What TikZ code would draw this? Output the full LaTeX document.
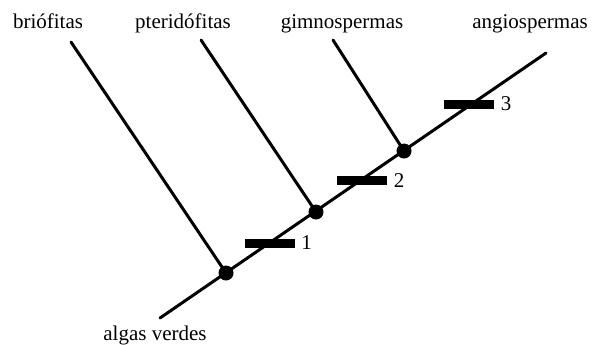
\documentclass[tikz,border=0pt]{standalone}
\usepackage{fontspec}
\setmainfont{Liberation Serif}
\usetikzlibrary{positioning}
\tikzset{
  taxon/.style={font=\fontsize{10.5}{12}\selectfont, inner sep=0pt, anchor=base},
  branch/.style={line width=1.5pt, line cap=round},
  split/.style={circle, fill=black, inner sep=0pt, minimum size=7.5pt},
  trait/.style={rectangle, fill=black, inner sep=0pt, minimum width=25pt, minimum height=4.5pt},
  trait num/.style={font=\fontsize{10.5}{12}\selectfont, inner sep=0pt},
}
\begin{document}
\begin{tikzpicture}[x=0.5pt, y=-0.5pt]
  \useasboundingbox (0,0) rectangle (597,344);

  % taxa
  \node[taxon] (brio)  at (48,28)   {briófitas};
  \node[taxon] (pteri) at (183,28)  {pteridófitas};
  \node[taxon] (gimno) at (342,28)  {gimnospermas};
  \node[taxon] (angio) at (530,28)  {angiospermas};
  \node[taxon] (algas) at (155,340) {algas verdes};

  % ends of the branches
  \coordinate (root)     at (160,318);
  \coordinate (brio end)  at (71,42);
  \coordinate (pteri end) at (201,40);
  \coordinate (gimno end) at (333,40);
  \coordinate (angio end) at (546,53);

  % splits on the main line
  \coordinate (s1) at (226,273);
  \coordinate (s2) at (316,212);
  \coordinate (s3) at (404,151);

  \draw[branch] (root) -- (angio end);
  \draw[branch] (s1) -- (brio end);
  \draw[branch] (s2) -- (pteri end);
  \draw[branch] (s3) -- (gimno end);

  \node[split] (n1) at (s1) {};
  \node[split] (n2) at (s2) {};
  \node[split] (n3) at (s3) {};

  % derived traits
  \node[trait] (t1) at (269.5,243) {};
  \node[trait] (t2) at (362,180.5) {};
  \node[trait] (t3) at (469,104) {};
  \node[trait num, right=3pt of t1] (l1) {1};
  \node[trait num, right=3pt of t2] (l2) {2};
  \node[trait num, right=3pt of t3] (l3) {3};
\end{tikzpicture}
\end{document}
